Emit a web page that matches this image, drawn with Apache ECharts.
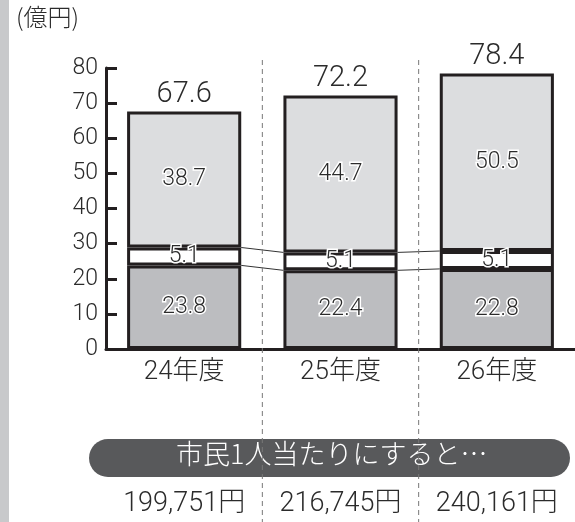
<!DOCTYPE html>
<html><head><meta charset="utf-8">
<script src="https://cdn.jsdelivr.net/npm/echarts@6/dist/echarts.min.js"></script>
<style>html,body{margin:0;padding:0;background:#fff}#c{width:575px;height:522px}</style>
</head><body><div id="c"></div>
<script>
var categories = ['24年度', '25年度', '26年度'];
var bottomSeg = [23.8, 22.4, 22.8];
var midSeg = [5.1, 5.1, 5.1];
var topSeg = [38.7, 44.7, 50.5];
var totals = [67.6, 72.2, 78.4];
var perCapita = ['199,751円', '216,745円', '240,161円'];
var unitLabel = '(億円)';
var bannerText = '市民1人当たりにすると…';

var FONT = 'Roboto, "Noto Sans CJK JP", sans-serif';
var CJK = '"Noto Sans CJK JP", sans-serif';
var W = 300;
var INK = '#231f20';
var TXT = '#2b2b2b';
var BAR_RATIO = 0.73;

var chart = echarts.init(document.getElementById('c'));
var inner = {
  show: true, position: 'inside', fontSize: 23, fontFamily: FONT, fontWeight: W, color: TXT,
  textBorderColor: '#fff', textBorderWidth: 3
};
chart.setOption({
  animation: false,
  backgroundColor: '#fff',
  graphic: [
    { type: 'rect', left: 0, top: 0, z: 0, shape: { width: 9, height: 522 }, style: { fill: '#c8c9cb' } },
    { type: 'text', left: 16, top: 5, z: 0, style: { text: unitLabel, font: W + ' 24px ' + CJK, fill: TXT } },
    { type: 'rect', left: 89, top: 439, z: 0, shape: { width: 481, height: 38, r: 19 }, style: { fill: '#58595b' } },
    { type: 'text', left: 176, top: 440, z: 0, style: { text: bannerText, font: W + ' 27px ' + CJK, fill: '#fff' } }
  ],
  grid: { left: 106, right: -4, top: 68, bottom: 173 },
  xAxis: [{
    type: 'category', data: categories, position: 'bottom',
    axisLine: { lineStyle: { color: INK, width: 3 } },
    axisTick: { inside: true, length: 6, lineStyle: { color: INK, width: 2 } },
    axisLabel: { interval: 0, fontSize: 26, fontFamily: FONT, fontWeight: W, color: TXT, margin: 10 },
    splitLine: { show: false }
  }, {
    type: 'category', data: perCapita, position: 'bottom',
    axisLine: { show: false }, axisTick: { show: false },
    axisLabel: { interval: 0, hideOverlap: false, fontSize: 27, fontFamily: FONT, fontWeight: W, color: TXT, margin: 142 }
  }],
  yAxis: {
    type: 'value', min: 0, max: 80, interval: 10,
    axisLine: { show: true, lineStyle: { color: INK, width: 3 } },
    axisTick: { show: true, inside: true, length: 11, lineStyle: { color: INK, width: 3 } },
    axisLabel: { fontSize: 23, fontFamily: FONT, fontWeight: W, color: TXT, margin: 8 },
    splitLine: { show: false }
  },
  series: [
    { type: 'bar', stack: 's', data: bottomSeg, barWidth: (BAR_RATIO * 100) + '%',
      itemStyle: { color: '#bcbdc0', borderColor: INK, borderWidth: 3 }, label: inner },
    { type: 'bar', stack: 's', data: midSeg,
      itemStyle: { color: '#fff', borderColor: INK, borderWidth: 3 }, label: inner },
    { type: 'bar', stack: 's', data: topSeg,
      itemStyle: { color: '#dcdddf', borderColor: INK, borderWidth: 3 }, label: inner },
    { type: 'bar', stack: 's', data: topSeg.map(function () { return 0; }),
      itemStyle: { color: 'transparent', borderWidth: 0 },
      label: { show: true, position: 'top', distance: 2, fontSize: 29, fontFamily: FONT, fontWeight: W, color: TXT,
        formatter: function (p) { return totals[p.dataIndex].toFixed(1); } } },
    { type: 'custom', z: 3, data: [[0], [1]], clip: false,
      renderItem: function (params, api) {
        var i = api.value(0);
        var bw = api.size([1, 0])[0] * BAR_RATIO;
        var vals = [[bottomSeg[i], bottomSeg[i + 1]], [bottomSeg[i] + midSeg[i], bottomSeg[i + 1] + midSeg[i + 1]]];
        return { type: 'group', children: vals.map(function (v) {
          var a = api.coord([i, v[0]]), b = api.coord([i + 1, v[1]]);
          return { type: 'line', shape: { x1: a[0] + bw / 2, y1: a[1], x2: b[0] - bw / 2, y2: b[1] },
            style: { stroke: '#333', lineWidth: 1 } };
        }) };
      } },
    { type: 'custom', z: 10, data: [[0], [1]], clip: false,
      renderItem: function (params, api) {
        var i = api.value(0);
        var x = (api.coord([i, 0])[0] + api.coord([i + 1, 0])[0]) / 2;
        return { type: 'line', shape: { x1: x, y1: params.coordSys.y - 8, x2: x, y2: api.getHeight() },
          style: { stroke: '#777', lineWidth: 1, lineDash: [5, 4] } };
      } }
  ]
});
</script></body></html>
